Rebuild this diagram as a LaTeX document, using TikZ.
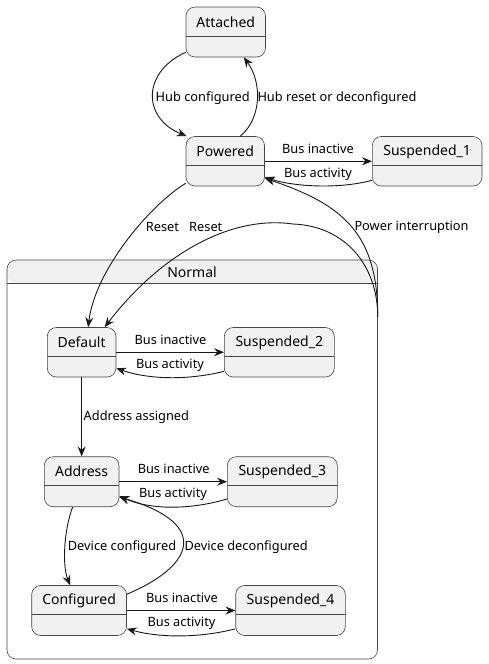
\documentclass[tikz,border=0pt]{standalone}
\usepackage{fontspec}
\setmainfont{Noto Sans}
\usetikzlibrary{arrows.meta,fit,calc}
\definecolor{stfill}{HTML}{F1F1F1}
\definecolor{stline}{HTML}{181818}
\tikzset{
  statebox/.style={draw=stline!80, line width=0.6pt, fill=stfill, rounded corners=9pt, inner sep=0pt,
    path picture={\draw[stline!80, line width=0.6pt] ([yshift=-29pt]path picture bounding box.north west) -- ([yshift=-29pt]path picture bounding box.north east);}},
  normalbox/.style={draw=stline!80, line width=0.6pt, fill=white, rounded corners=9pt, inner sep=0pt,
    path picture={\fill[stfill] (path picture bounding box.north west) rectangle ([yshift=-23.5pt]path picture bounding box.north east);
      \draw[stline!80, line width=0.6pt] ([yshift=-23.5pt]path picture bounding box.north west) -- ([yshift=-23.5pt]path picture bounding box.north east);}},
  sttext/.style={inner sep=0pt, font=\fontsize{14}{16}\selectfont, text=black},
  lab/.style={inner sep=0pt, font=\fontsize{12.8}{15}\selectfont, text=black},
  edge/.style={draw=stline, line width=0.9pt, -{Stealth[length=10pt,width=8pt,inset=3.5pt]}},
}
\begin{document}
\begin{tikzpicture}[x=1pt,y=-1pt]
\useasboundingbox (0,0) rectangle (488,664);
% container
\node[normalbox, fit={(7,260)(377.5,659)}] (normal) {};
\node[sttext] (normal-t) at (192,272) {Normal};
% states
\node[statebox, fit={(186,7)(265.5,57)}] (attached) {};
\node[sttext] (attached-t) at (225.7,22) {Attached};
\node[statebox, fit={(186,136.5)(264.5,186)}] (powered) {};
\node[sttext] (powered-t) at (225.2,151.5) {Powered};
\node[statebox, fit={(372.3,136.5)(482,186)}] (sus1) {};
\node[sttext] (sus1-t) at (427.1,151.5) {Suspended\_1};
\node[statebox, fit={(47.3,327.5)(116,377)}] (default) {};
\node[sttext] (default-t) at (81.6,342.5) {Default};
\node[statebox, fit={(224.3,327.5)(334.3,377)}] (sus2) {};
\node[sttext] (sus2-t) at (279.3,342.5) {Suspended\_2};
\node[statebox, fit={(44.3,456.7)(119,506.7)}] (address) {};
\node[sttext] (address-t) at (81.6,471.7) {Address};
\node[statebox, fit={(227.3,456.7)(337.3,506.7)}] (sus3) {};
\node[sttext] (sus3-t) at (282.3,471.7) {Suspended\_3};
\node[statebox, fit={(31.7,585.5)(126.5,635.5)}] (configured) {};
\node[sttext] (configured-t) at (79.1,600.5) {Configured};
\node[statebox, fit={(235.7,585.5)(345.3,635.5)}] (sus4) {};
\node[sttext] (sus4-t) at (290.5,600.5) {Suspended\_4};
% helper coordinate on the container edge
\coordinate (nstart) at ([yshift=-57pt]normal.north east);
% edges
\draw[edge] ([yshift=5pt]attached.south west) .. controls (142,72) and (142,118) .. ([xshift=1pt]powered.north west);
\draw[edge] ([xshift=15pt]powered.north) .. controls (262,118) and (262,82) .. ([xshift=18pt]attached.south);
\draw[edge] (powered.east) -- (sus1.west);
\draw[edge] ([yshift=6pt]sus1.south west) .. controls (340,189) and (295,187) .. ([yshift=9pt]powered.south east);
\draw[edge] ([yshift=3pt]powered.south west) .. controls (150,205) and (95,270) .. ([xshift=6.5pt]default.north);
\draw[edge] (nstart) .. controls (377.5,265) and (345,226) .. (293,224) .. controls (230,215) and (160,255) .. ([xshift=23pt]default.north);
\draw[edge] (nstart) .. controls (377.5,235) and (345,205) .. ([yshift=8pt]powered.south east);
\draw[edge] (default.east) -- (sus2.west);
\draw[edge] ([yshift=6pt]sus2.south west) .. controls (190,380) and (150,380) .. ([yshift=9pt]default.south east);
\draw[edge] (default.south) -- (address.north);
\draw[edge] (address.east) -- (sus3.west);
\draw[edge] ([yshift=8pt]sus3.south west) .. controls (190,510) and (150,510) .. ([yshift=11pt]address.south east);
\draw[edge] ([xshift=-9pt]address.south) .. controls (64,530) and (62,565) .. ([xshift=-9pt]configured.north);
\draw[edge] ([yshift=-9pt]configured.north east) .. controls (190,568) and (215,525) .. ([yshift=10pt]address.south east);
\draw[edge] (configured.east) -- (sus4.west);
\draw[edge] ([yshift=7pt]sus4.south west) .. controls (200,638) and (160,638) .. ([yshift=7pt]configured.south east);
% labels
\node[lab, anchor=west] (l1) at (155.5,98) {Hub configured};
\node[lab, anchor=west] (l2) at (257.3,98) {Hub reset or deconfigured};
\node[lab] (l3) at (318,149) {Bus inactive};
\node[lab] (l4) at (318,174) {Bus activity};
\node[lab, anchor=west] (l5) at (145.7,227) {Reset};
\node[lab, anchor=west] (l6) at (189,227) {Reset};
\node[lab, anchor=west] (l7) at (354.3,227) {Power interruption};
\node[lab] (l8) at (170.5,340) {Bus inactive};
\node[lab] (l9) at (170,365) {Bus activity};
\node[lab, anchor=west] (l10) at (83.5,417) {Address assigned};
\node[lab] (l11) at (173.7,469.3) {Bus inactive};
\node[lab] (l12) at (173,494.3) {Bus activity};
\node[lab, anchor=west] (l13) at (67.7,547) {Device configured};
\node[lab, anchor=west] (l14) at (184.3,547) {Device deconfigured};
\node[lab] (l15) at (182,598.3) {Bus inactive};
\node[lab] (l16) at (181.5,623.3) {Bus activity};
\end{tikzpicture}
\end{document}
